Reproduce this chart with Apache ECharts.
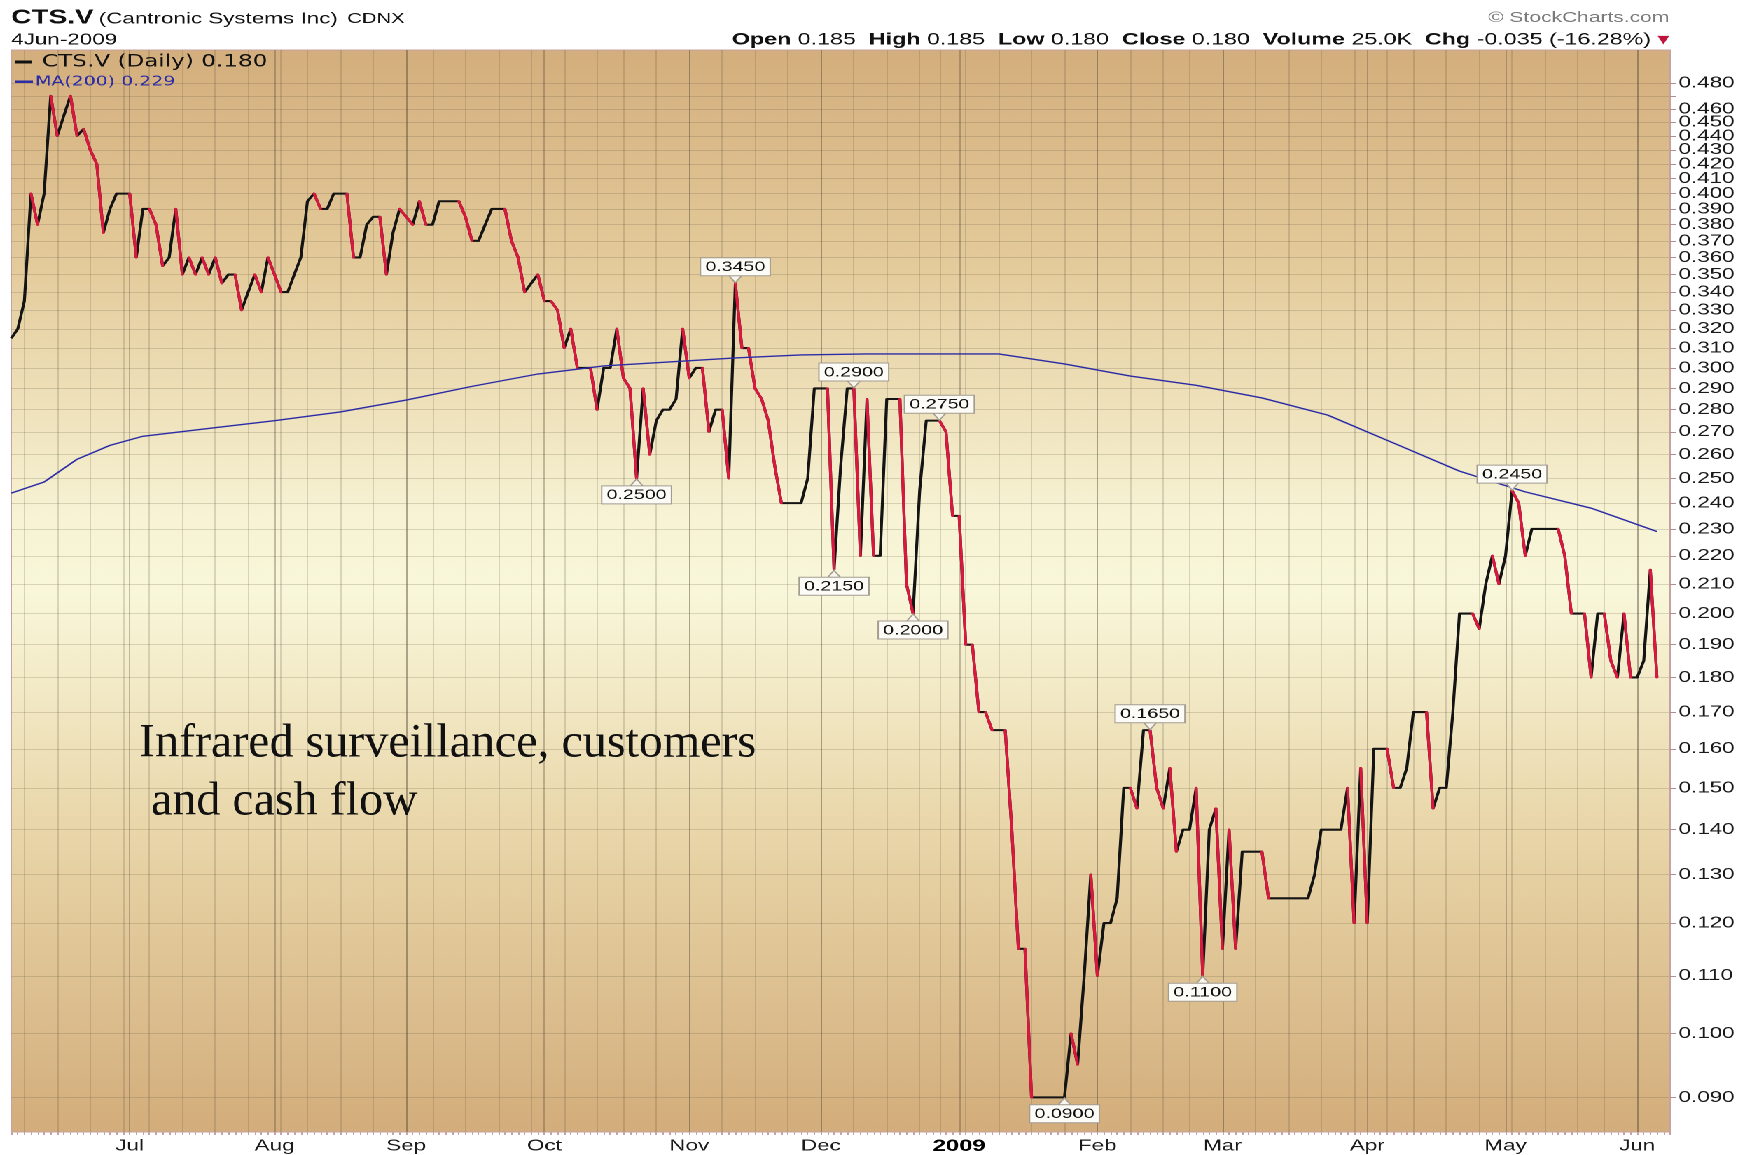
<!DOCTYPE html>
<html>
<head>
<meta charset="utf-8">
<title>CTS.V</title>
<script src="https://cdn.jsdelivr.net/npm/echarts@6.0.0/dist/echarts.min.js"></script>
<style>
  html, body { margin: 0; padding: 0; background: #fff; }
  #wrap { width: 1745px; height: 1155px; overflow: hidden; }
  /* the StockCharts picture is stretched sideways, so the chart is too */
  #main { width: 1246px; height: 1155px; transform: scaleX(1.4005); transform-origin: 0 0; }
</style>
</head>
<body>
<div id="wrap"><div id="main"></div></div>
<script>
// trading days of the TSX Venture, 5 Jun 2008 .. 4 Jun 2009
const firstDay = '2008-06-05';
const lastDay = '2009-06-04';
const holidays = ['2008-07-01', '2008-08-04', '2008-09-01', '2008-10-13', '2008-12-25',
                  '2008-12-26', '2009-01-01', '2009-02-16', '2009-04-10', '2009-05-18'];

// daily close, one value per trading day
const prices = [
  0.315, 0.32, 0.335, 0.40, 0.38, 0.40, 0.47, 0.44, 0.455, 0.47,
  0.44, 0.445, 0.43, 0.42, 0.375, 0.39, 0.40, 0.40, 0.40, 0.36,
  0.39, 0.39, 0.38, 0.355, 0.36, 0.39, 0.35, 0.36, 0.35, 0.36,
  0.35, 0.36, 0.345, 0.35, 0.35, 0.33, 0.34, 0.35, 0.34, 0.36,
  0.35, 0.34, 0.34, 0.35, 0.36, 0.395, 0.40, 0.39, 0.39, 0.40,
  0.40, 0.40, 0.36, 0.36, 0.38, 0.385, 0.385, 0.35, 0.375, 0.39,
  0.385, 0.38, 0.395, 0.38, 0.38, 0.395, 0.395, 0.395, 0.395, 0.385,
  0.37, 0.37, 0.38, 0.39, 0.39, 0.39, 0.37, 0.36, 0.34, 0.345,
  0.35, 0.335, 0.335, 0.33, 0.31, 0.32, 0.30, 0.30, 0.30, 0.28,
  0.30, 0.30, 0.32, 0.295, 0.29, 0.25, 0.29, 0.26, 0.275, 0.28,
  0.28, 0.285, 0.32, 0.295, 0.30, 0.30, 0.27, 0.28, 0.28, 0.25,
  0.345, 0.31, 0.31, 0.29, 0.285, 0.275, 0.255, 0.24, 0.24, 0.24,
  0.24, 0.25, 0.29, 0.29, 0.29, 0.215, 0.255, 0.29, 0.29, 0.22,
  0.285, 0.22, 0.22, 0.285, 0.285, 0.285, 0.21, 0.20, 0.245, 0.275,
  0.275, 0.275, 0.27, 0.235, 0.235, 0.19, 0.19, 0.17, 0.17, 0.165,
  0.165, 0.165, 0.14, 0.115, 0.115, 0.09, 0.09, 0.09, 0.09, 0.09,
  0.09, 0.10, 0.095, 0.11, 0.13, 0.11, 0.12, 0.12, 0.125, 0.15,
  0.15, 0.145, 0.165, 0.165, 0.15, 0.145, 0.155, 0.135, 0.14, 0.14,
  0.15, 0.11, 0.14, 0.145, 0.115, 0.14, 0.115, 0.135, 0.135, 0.135,
  0.135, 0.125, 0.125, 0.125, 0.125, 0.125, 0.125, 0.125, 0.13, 0.14,
  0.14, 0.14, 0.14, 0.15, 0.12, 0.155, 0.12, 0.16, 0.16, 0.16,
  0.15, 0.15, 0.155, 0.17, 0.17, 0.17, 0.145, 0.15, 0.15, 0.17,
  0.20, 0.20, 0.20, 0.195, 0.21, 0.22, 0.21, 0.22, 0.245, 0.24,
  0.22, 0.23, 0.23, 0.23, 0.23, 0.23, 0.22, 0.20, 0.20, 0.20,
  0.18, 0.20, 0.20, 0.185, 0.18, 0.20, 0.18, 0.18, 0.185, 0.215,
  0.18
];

// 200 day moving average, read every few trading days
const maDays = [0, 5, 10, 15, 20, 30, 40, 50, 60, 70, 80, 90, 100, 110, 120, 130,
                140, 150, 160, 170, 180, 190, 200, 210, 220, 230, 240, 250];
const maValues = [0.244, 0.2485, 0.258, 0.264, 0.268, 0.2715, 0.275, 0.279, 0.2845, 0.291,
                  0.297, 0.301, 0.303, 0.305, 0.3065, 0.307, 0.307, 0.307, 0.302, 0.296,
                  0.2915, 0.2855, 0.2775, 0.265, 0.253, 0.2445, 0.238, 0.229];

// y ticks (0.470 has a grid line but no label)
const yTicks = [0.09, 0.10, 0.11, 0.12, 0.13, 0.14, 0.15, 0.16, 0.17, 0.18, 0.19, 0.20,
                0.21, 0.22, 0.23, 0.24, 0.25, 0.26, 0.27, 0.28, 0.29, 0.30, 0.31, 0.32,
                0.33, 0.34, 0.35, 0.36, 0.37, 0.38, 0.39, 0.40, 0.41, 0.42, 0.43, 0.44,
                0.45, 0.46, 0.47, 0.48];
const yLabels = [0.09, 0.10, 0.11, 0.12, 0.13, 0.14, 0.15, 0.16, 0.17, 0.18, 0.19, 0.20,
                 0.21, 0.22, 0.23, 0.24, 0.25, 0.26, 0.27, 0.28, 0.29, 0.30, 0.31, 0.32,
                 0.33, 0.34, 0.35, 0.36, 0.37, 0.38, 0.39, 0.40, 0.41, 0.42, 0.43, 0.44,
                 0.45, 0.46, 0.48];
// month labels, January shows the year
const monthNames = ['2009', 'Feb', 'Mar', 'Apr', 'May', 'Jun', 'Jul', 'Aug', 'Sep', 'Oct', 'Nov', 'Dec'];

// annotated highs / lows
const labelDays = [95, 110, 125, 128, 137, 141, 160, 173, 181, 228];
const labelSide = ['below', 'above', 'below', 'above', 'below', 'above', 'below', 'above', 'below', 'above'];

// quote line of the last day
const quoteOpen = 0.185;
const quoteHigh = 0.185;
const quoteLow = 0.180;
const quoteVolume = '25.0K';

function tradingDays(from, to, skip) {
    const out = [];
    const d = new Date(from + 'T00:00:00Z');
    const end = new Date(to + 'T00:00:00Z');
    while (d <= end) {
        const s = d.toISOString().slice(0, 10);
        const wd = d.getUTCDay();
        if (wd !== 0 && wd !== 6 && skip.indexOf(s) < 0) out.push(s);
        d.setUTCDate(d.getUTCDate() + 1);
    }
    return out;
}

const dates = tradingDays(firstDay, lastDay, holidays);
const weekDay = dates.map(s => new Date(s + 'T00:00:00Z').getUTCDay());
const monthStart = dates.map((s, i) => i > 0 && s.slice(0, 7) !== dates[i - 1].slice(0, 7));
const weekStart = dates.map((s, i) => i > 0 && weekDay[i] < weekDay[i - 1]);

// down days are drawn red on top of the black line
const downSegs = [];
for (let i = 0; i + 1 < prices.length; i++) {
    if (prices[i + 1] < prices[i]) {
        downSegs.push({ coords: [[i, prices[i]], [i + 1, prices[i + 1]]] });
    }
}

const close = prices[prices.length - 1];
const prev = prices[prices.length - 2];
const chg = close - prev;
const chgText = (chg < 0 ? '-' : '+') + Math.abs(chg).toFixed(3) +
    ' (' + (chg < 0 ? '-' : '+') + Math.abs(chg / prev * 100).toFixed(2) + '%)';

const gridLine = 'rgba(90,80,60,0.2)';
const monthLine = 'rgba(80,68,52,0.32)';
const frame = '#c6a3a3';

var myChart = echarts.init(document.getElementById('main'), null, { devicePixelRatio: 2 });

myChart.setOption({
    animation: false,
    backgroundColor: '#ffffff',
    grid: {
        left: 8,
        right: 53.5,
        top: 50,
        bottom: 23,
        show: true,
        borderColor: frame,
        borderWidth: 1,
        backgroundColor: {
            type: 'linear', x: 0, y: 0, x2: 0, y2: 1,
            colorStops: [
                { offset: 0, color: '#d4ae7d' },
                { offset: 0.2, color: '#e4cb9b' },
                { offset: 0.43, color: '#f7f3d4' },
                { offset: 0.5, color: '#f9f7da' },
                { offset: 0.72, color: '#e9d6a9' },
                { offset: 1, color: '#d3ad7b' }
            ]
        }
    },
    xAxis: [
        {
            type: 'category',
            data: dates,
            boundaryGap: false,
            max: dates.length + 1,
            axisLine: { show: false },
            axisTick: { show: true, interval: 0, length: 3, lineStyle: { color: '#c9a2a2' } },
            axisLabel: {
                interval: (i) => !!monthStart[i],
                margin: 6,
                color: '#1a1a1a',
                fontFamily: 'Liberation Sans',
                fontSize: 16,
                formatter: (value) => {
                    const m = +value.slice(5, 7);
                    return m === 1 ? '{y|' + monthNames[0] + '}' : monthNames[m - 1];
                },
                rich: { y: { fontWeight: 'bold', fontSize: 17, color: '#000', fontFamily: 'Liberation Sans' } }
            },
            splitLine: { show: true, interval: (i) => !!weekStart[i], lineStyle: { color: gridLine, width: 1 } }
        },
        {
            type: 'category',
            data: dates,
            boundaryGap: false,
            max: dates.length + 1,
            position: 'bottom',
            axisLine: { show: false },
            axisTick: { show: false },
            axisLabel: { show: false },
            splitLine: { show: true, interval: (i) => !!monthStart[i], lineStyle: { color: monthLine, width: 1 } }
        }
    ],
    yAxis: {
        type: 'log',
        logBase: 10,
        position: 'right',
        min: 0.085,
        max: 0.507,
        axisLine: { show: true, lineStyle: { color: frame } },
        axisTick: { show: true, length: 4, customValues: yTicks, lineStyle: { color: '#b48e8e' } },
        axisLabel: {
            customValues: yLabels,
            margin: 6,
            color: '#1a1a1a',
            fontFamily: 'Liberation Sans',
            fontSize: 16,
            formatter: (v) => v.toFixed(3)
        },
        splitLine: { show: true, lineStyle: { color: gridLine, width: 1 } }
    },
    series: [
        {
            name: 'CTS.V (Daily)',
            type: 'line',
            data: prices,
            showSymbol: false,
            symbol: 'none',
            lineStyle: { color: '#141414', width: 2.1, join: 'round' },
            z: 3,
            markPoint: {
                z: 10,
                silent: true,
                data: labelDays.map((d, k) => {
                    const up = labelSide[k] === 'above';
                    return {
                        coord: [d, prices[d]],
                        value: prices[d],
                        symbol: up ? 'path://M0,0L10,0L5,7Z' : 'path://M5,0L10,7L0,7Z',
                        symbolSize: [9, 7],
                        symbolOffset: [0, up ? -4 : 4],
                        itemStyle: { color: '#f8f5ec', borderColor: '#a39c90', borderWidth: 1 },
                        label: {
                            show: true,
                            position: up ? 'top' : 'bottom',
                            distance: 0,
                            formatter: (p) => p.value.toFixed(4),
                            backgroundColor: '#fcfbf6',
                            borderColor: '#a39c90',
                            borderWidth: 1,
                            padding: [2, 3, 1, 3],
                            color: '#111',
                            fontFamily: 'Liberation Sans',
                            fontSize: 14
                        }
                    };
                })
            }
        },
        {
            name: 'down',
            type: 'lines',
            coordinateSystem: 'cartesian2d',
            data: downSegs,
            silent: true,
            z: 4,
            lineStyle: { color: '#d8183f', width: 2.1, cap: 'round', opacity: 1 }
        },
        {
            name: 'MA(200)',
            type: 'line',
            data: maDays.map((d, k) => [d, maValues[k]]),
            showSymbol: false,
            symbol: 'none',
            lineStyle: { color: '#2c2ca6', width: 1.4 },
            z: 5
        }
    ],
    graphic: [
        {
            type: 'text', x: 8, y: 18, z: 100,
            style: { text: 'CTS.V', fontFamily: 'Liberation Sans', fontWeight: 'bold', fontSize: 20,
                     fill: '#111', verticalAlign: 'middle', textVerticalAlign: 'middle' }
        },
        {
            type: 'text', x: 70.5, y: 19, z: 100,
            style: {
                text: '{a|(Cantronic Systems Inc)}  {b|CDNX}',
                fill: '#111', verticalAlign: 'middle', textVerticalAlign: 'middle',
                rich: {
                    a: { fontFamily: 'Liberation Sans', fontSize: 16, fill: '#111', color: '#111' },
                    b: { fontFamily: 'Liberation Sans', fontSize: 14.5, fill: '#111', color: '#111' }
                }
            }
        },
        {
            type: 'text', x: 8, y: 40, z: 100,
            style: { text: '4Jun-2009', fontFamily: 'Liberation Sans', fontSize: 16,
                     fill: '#111', verticalAlign: 'middle', textVerticalAlign: 'middle' }
        },
        {
            type: 'text', x: 1192, y: 18, z: 100,
            style: { text: '\u00a9 StockCharts.com', fontFamily: 'Liberation Sans', fontSize: 15,
                     fill: '#7a7a7a', align: 'right', textAlign: 'right',
                     verticalAlign: 'middle', textVerticalAlign: 'middle' }
        },
        {
            type: 'text', x: 1192, y: 40, z: 100,
            style: {
                text: '{b|Open} ' + quoteOpen.toFixed(3) + '  {b|High} ' + quoteHigh.toFixed(3) +
                      '  {b|Low} ' + quoteLow.toFixed(3) + '  {b|Close} ' + close.toFixed(3) +
                      '  {b|Volume} ' + quoteVolume + '  {b|Chg} ' + chgText + ' {r|\u25bc}',
                fontFamily: 'Liberation Sans', fontSize: 16.6, fill: '#111',
                align: 'right', textAlign: 'right', verticalAlign: 'middle', textVerticalAlign: 'middle',
                rich: {
                    b: { fontFamily: 'Liberation Sans', fontWeight: 'bold', fontSize: 16.6, fill: '#111', color: '#111' },
                    r: { fontFamily: 'DejaVu Sans', fontSize: 11, fill: '#c0143c', color: '#c0143c' }
                }
            }
        },
        // legend
        { type: 'rect', z: 100, shape: { x: 11, y: 60.5, width: 11.5, height: 3 }, style: { fill: '#111' } },
        {
            type: 'text', x: 30, y: 62, z: 100,
            style: { text: 'CTS.V (Daily) ' + close.toFixed(3), fontFamily: 'DejaVu Sans', fontSize: 16.5,
                     fill: '#111', verticalAlign: 'middle', textVerticalAlign: 'middle' }
        },
        { type: 'rect', z: 100, shape: { x: 11, y: 80.5, width: 12.5, height: 2.5 }, style: { fill: '#2c2ca6' } },
        {
            type: 'text', x: 25, y: 82, z: 100,
            style: { text: 'MA(200) ' + maValues[maValues.length - 1].toFixed(3), fontFamily: 'DejaVu Sans',
                     fontSize: 13.5, fill: '#2c2ca6', verticalAlign: 'middle', textVerticalAlign: 'middle' }
        },
        // note written on the chart (not stretched)
        {
            type: 'text', x: 99.3, y: 715, z: 100, scaleX: 1 / 1.4005,
            style: { text: 'Infrared surveillance, customers\n and cash flow', fontFamily: 'Liberation Serif',
                     fontSize: 48, lineHeight: 58, fill: '#111', verticalAlign: 'top', textVerticalAlign: 'top' }
        }
    ]
});
</script>
</body>
</html>
